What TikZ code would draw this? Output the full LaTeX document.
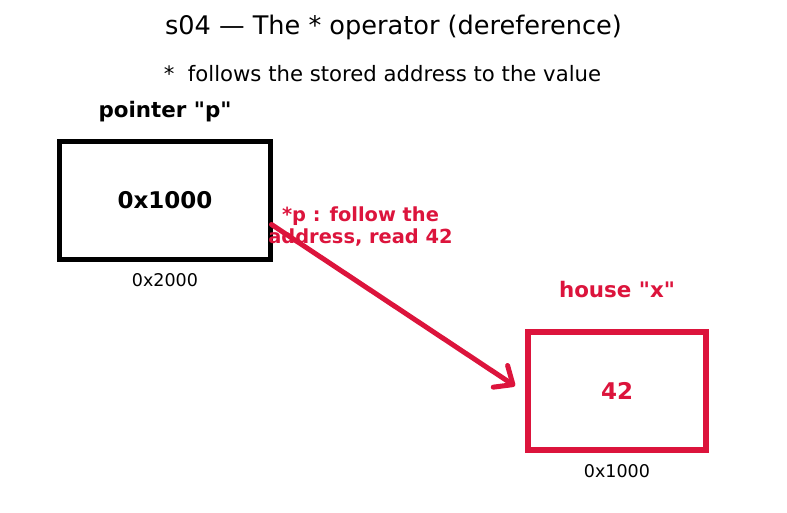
\documentclass[tikz,border=0pt]{standalone}
\usepackage{fontspec}
\setmainfont{DejaVu Sans}[Ligatures=TeXOff]
\usetikzlibrary{arrows.meta}
\definecolor{crim}{HTML}{DC143C}
\tikzset{
  box/.style={draw, line width=4.5pt, minimum width=211pt, minimum height=118pt, inner sep=0pt},
  xbox/.style={draw=crim, line width=6pt, minimum width=178pt, minimum height=118pt, inner sep=0pt, text=crim},
  big/.style={font=\fontsize{23}{27}\selectfont\bfseries},
  head/.style={font=\fontsize{21.4}{25}\selectfont\bfseries, inner sep=0pt},
  addr/.style={font=\fontsize{17.5}{21}\selectfont, inner sep=0pt},
  ptr/.style={draw=crim, line width=5pt, line cap=round, line join=round, -{Straight Barb[length=15pt,width=26pt,line cap=round,line join=round]}},
}
\begin{document}
\begin{tikzpicture}[x=1pt,y=-1pt]
\useasboundingbox (0,0) rectangle (787,512);
\node[font=\fontsize{25.6}{30}\selectfont, inner sep=0pt] (title) at (393.5,27) {s04 — The * operator (dereference)};
\node[font=\fontsize{21.2}{25}\selectfont, inner sep=0pt] (sub) at (382.5,74) {*\ \ follows the stored address to the value};
\node[box, big] (p) at (165,200.5) {0x1000};
\node[head] (plabel) at (165,111.5) {pointer "p"};
\node[addr] (paddr) at (165,280) {0x2000};
\node[xbox, big] (x) at (617,390.5) {42};
\node[head, text=crim] (xlabel) at (617,289.5) {house "x"};
\node[addr] (xaddr) at (617,471) {0x1000};
\coordinate (a1) at (271.5,224.5);
\coordinate (a2) at (515,386);
\draw[ptr] (a1) -- (a2);
\node[font=\fontsize{19.4}{22}\selectfont\bfseries, text=crim, align=center, inner sep=0pt] (lab) at (360.5,226.5) {*p : follow the\\address, read 42};
\end{tikzpicture}
\end{document}
